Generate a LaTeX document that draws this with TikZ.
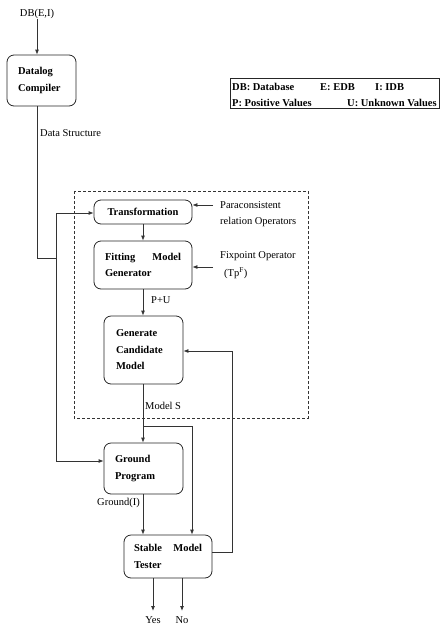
\documentclass[tikz,border=0pt]{standalone}
\usepackage{fontspec}
\setmainfont{Liberation Serif}
\usetikzlibrary{arrows.meta}
\begin{document}
\begin{tikzpicture}[x=1pt,y=-1pt,
  every node/.style={font=\fontsize{10.5}{16}\selectfont},
  proc/.style={draw=black!85,line width=0.8pt,rounded corners=7pt,font=\fontsize{10.5}{16.5}\selectfont\bfseries,align=left},
  lbl/.style={inner sep=0pt,anchor=west},
  blbl/.style={inner sep=0pt,anchor=west,font=\fontsize{10.5}{14}\selectfont\bfseries},
  conn/.style={draw=black!80,line width=0.8pt},
  arr/.style={conn,-{Latex[length=5pt,width=4pt]}}]
\useasboundingbox (0,0) rectangle (440,625);

% labels
\node[inner sep=0pt] (db) at (37,14) {DB(E,I)};

% boxes
\node[proc,minimum height=51pt,text width=47pt,inner xsep=11pt] (datalog) at (41.5,80.5) {Datalog\\Compiler};
\node[proc,minimum width=98pt,minimum height=24pt,align=center] (trans) at (143,212) {Transformation};
\node[proc,minimum height=48pt,text width=76pt,inner xsep=11pt] (fit) at (143,265) {Fitting\hfill Model\\Generator};
\node[proc,minimum height=68pt,text width=55pt,inner xsep=12pt] (gen) at (143.5,350) {Generate\\Candidate\\Model};
\node[proc,minimum height=51pt,text width=57pt,inner xsep=11pt] (ground) at (143.5,468.5) {Ground\\Program};
\node[proc,minimum height=43pt,text width=68pt,inner xsep=10pt] (stable) at (168,556.5) {Stable\hfill Model\\Tester};

% dashed region
\draw[draw=black!80,line width=0.8pt,dash pattern=on 3pt off 2pt] (74,191) rectangle (308,418);

% legend
\draw[draw=black!85,line width=0.8pt] (230,78) rectangle (439,108.5);
\node[blbl] (l1) at (232,87) {DB: Database};
\node[blbl] (l2) at (320,87) {E: EDB};
\node[blbl] (l3) at (375,87) {I: IDB};
\node[blbl] (l4) at (232,103) {P: Positive Values};
\node[blbl] (l5) at (347,103) {U: Unknown Values};

% side labels
\node[lbl] (ds) at (40,133) {Data Structure};
\node[lbl] (para1) at (220,205) {Paraconsistent};
\node[lbl] (para2) at (220,222) {relation Operators};
\node[lbl] (fix1) at (220,256) {Fixpoint Operator};
\node[lbl] (fix2) at (224,273) {(Tp\textsuperscript{F})};
\node[lbl] (pu) at (151,300) {P+U};
\node[lbl] (ms) at (145,406) {Model S};
\node[inner sep=0pt,anchor=east] (gi) at (140,503) {Ground(I)};
\node[inner sep=0pt] (yes) at (153,620) {Yes};
\node[inner sep=0pt] (no) at (182,620) {No};

% coordinates
\coordinate (jd) at (37,258);
\coordinate (jv) at (56,258);
\coordinate (jt) at (56,213);
\coordinate (jg) at (56,461);
\coordinate (pr) at (213,205);
\coordinate (fx) at (213,267);
\coordinate (br) at (143,426);
\coordinate (brr) at (192,426);
\coordinate (fb1) at (232,552);
\coordinate (fb2) at (232,351);
\coordinate (ye) at (153,611);
\coordinate (ne) at (182,611);

% connectors
\draw[arr] (db.south) -- (db.south |- datalog.north);
\draw[conn] (datalog.south -| jd) -- (jd) -- (jv);
\draw[conn] (jt) -- (jg);
\draw[arr] (jt) -- (trans.west |- jt);
\draw[arr] (jg) -- (ground.west |- jg);
\draw[arr] (trans.south) -- (fit.north);
\draw[arr] (pr) -- (trans.east |- pr);
\draw[arr] (fx) -- (fit.east |- fx);
\draw[arr] (fit.south) -- (gen.north -| fit.south);
\draw[arr] (gen.south -| br) -- (ground.north -| br);
\draw[conn] (br) -- (brr);
\draw[arr] (brr) -- (stable.north -| brr);
\draw[arr] (ground.south -| br) -- (stable.north -| br);
\draw[conn] (stable.east |- fb1) -- (fb1) -- (fb2);
\draw[arr] (fb2) -- (gen.east |- fb2);
\draw[arr] (stable.south -| ye) -- (ye);
\draw[arr] (stable.south -| ne) -- (ne);
\end{tikzpicture}
\end{document}
